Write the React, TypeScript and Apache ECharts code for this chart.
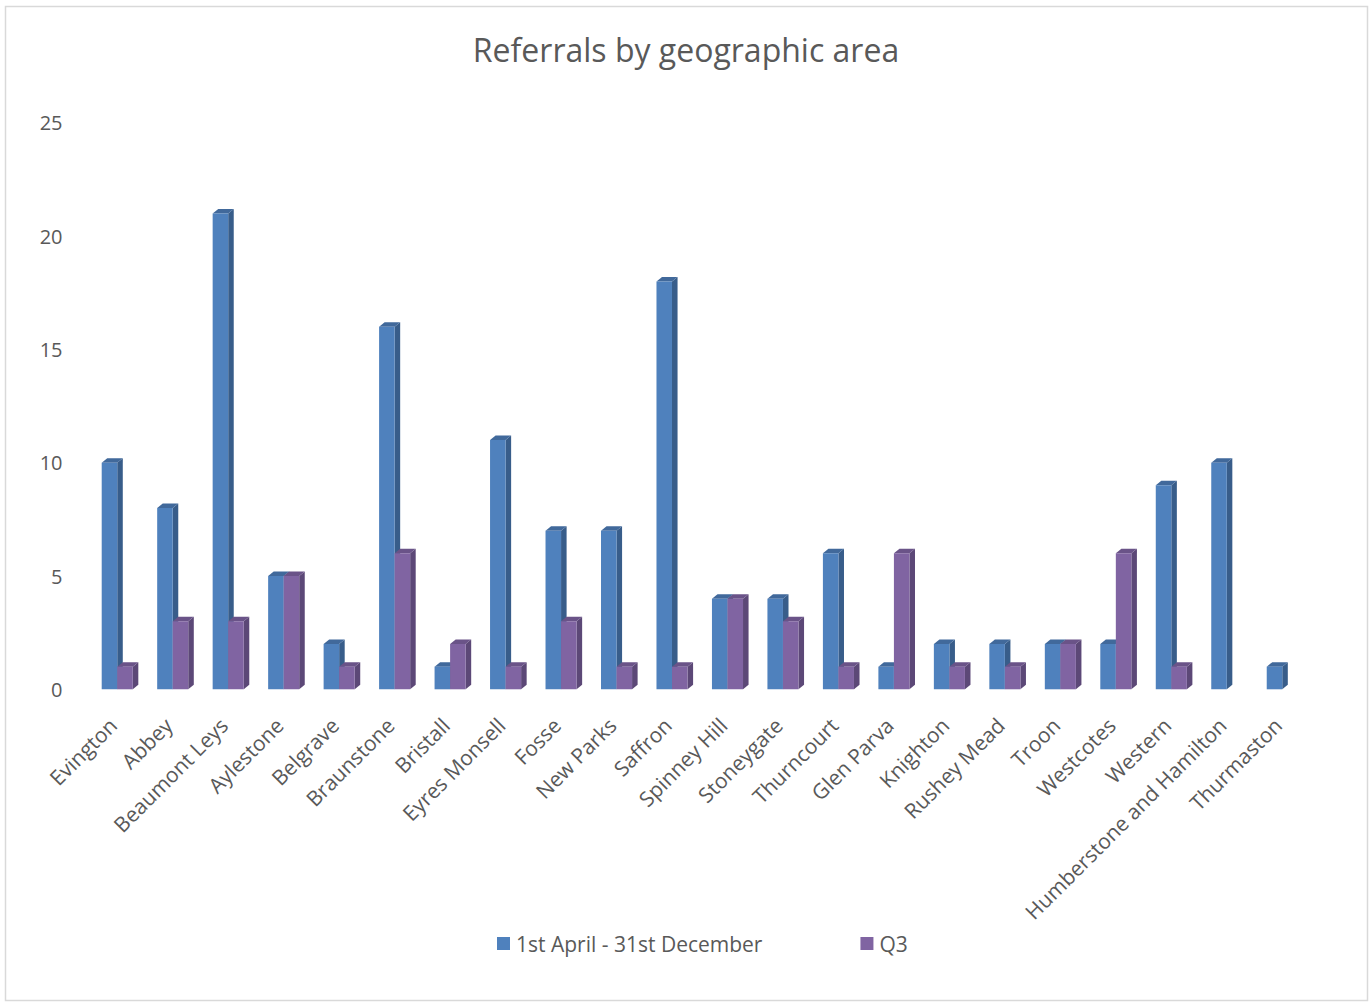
import React, { useEffect, useRef } from "react";
import * as echarts from "echarts";

const categories = [
  "Evington", "Abbey", "Beaumont Leys", "Aylestone", "Belgrave", "Braunstone",
  "Bristall", "Eyres Monsell", "Fosse", "New Parks", "Saffron", "Spinney Hill",
  "Stoneygate", "Thurncourt", "Glen Parva", "Knighton", "Rushey Mead", "Troon",
  "Westcotes", "Western", "Humberstone and Hamilton", "Thurmaston",
];
const seriesNames = ["1st April - 31st December", "Q3"];
const yearToDate = [10, 8, 21, 5, 2, 16, 1, 11, 7, 7, 18, 4, 4, 6, 1, 2, 2, 2, 2, 9, 10, 1];
const q3 = [1, 3, 3, 5, 1, 6, 2, 1, 3, 1, 1, 4, 3, 1, 6, 1, 1, 2, 6, 1, 0, 0];

const palette = [
  { front: "#4F81BD", side: "#385D8A", top: "#41699B" },
  { front: "#8064A2", side: "#5C4877", top: "#6A5388" },
];

const FONT = "'Open Sans', 'Noto Sans', sans-serif";
const TEXT = "#595959";

function make3D(si: number) {
  return (params: any, api: any) => {
    const idx = api.value(0);
    const val = api.value(1);
    if (!val) return null;
    const base = api.coord([idx, 0]);
    const top = api.coord([idx, val]);
    const band = api.size([1, 0])[0];
    const bw = band * 0.28;
    const dx = band * 0.1;
    const dy = 4.5;
    const x0 = base[0] - bw + si * bw;
    const x1 = x0 + bw;
    const c = palette[si];
    return {
      type: "group",
      children: [
        {
          type: "polygon",
          shape: { points: [[x1, top[1]], [x1 + dx, top[1] - dy], [x1 + dx, base[1] - dy], [x1, base[1]]] },
          style: { fill: c.side },
        },
        {
          type: "polygon",
          shape: { points: [[x0, top[1]], [x0 + dx, top[1] - dy], [x1 + dx, top[1] - dy], [x1, top[1]]] },
          style: { fill: c.top },
        },
        {
          type: "rect",
          shape: { x: x0, y: top[1], width: bw, height: base[1] - top[1] },
          style: { fill: c.front },
        },
      ],
    };
  };
}

export default function App() {
  const ref = useRef<HTMLDivElement>(null);
  useEffect(() => {
    document.body.style.margin = "0";
    if (!ref.current) return;
    const chart = echarts.init(ref.current, null, { renderer: "svg" });
    const sets = [yearToDate, q3];
    chart.setOption({
      animation: false,
      backgroundColor: "#ffffff",
      title: {
        text: "Referrals by geographic area",
        left: "center",
        top: 28,
        textStyle: { fontFamily: FONT, fontSize: 32, fontWeight: "normal", color: TEXT },
      },
      legend: {
        top: 933,
        left: 497,
        padding: 0,
        itemGap: 98,
        itemWidth: 13,
        itemHeight: 13,
        icon: "rect",
        textStyle: { fontFamily: FONT, fontSize: 21, color: TEXT, padding: [0, 0, 0, 1] },
        data: seriesNames.map((n, i) => ({ name: n, itemStyle: { color: palette[i].front } })),
      },
      grid: {
        left: 89.5,
        right: 62,
        top: 122.8,
        bottom: 314.7,
        containLabel: false,
        outerBoundsMode: "none",
      },
      xAxis: {
        type: "category",
        data: categories,
        axisLine: { show: false },
        axisTick: { show: false },
        axisLabel: {
          interval: 0,
          rotate: 45,
          margin: 28,
          padding: [0, 6, 0, 0],
          fontFamily: FONT,
          fontSize: 21,
          color: TEXT,
        },
      },
      yAxis: {
        type: "value",
        min: 0,
        max: 25,
        interval: 5,
        splitLine: { show: false },
        axisLine: { show: false },
        axisTick: { show: false },
        axisLabel: { margin: 27, padding: [5, 0, 0, 0], fontFamily: FONT, fontSize: 20, color: TEXT },
      },
      series: sets.map((d, si) => ({
        type: "custom",
        name: seriesNames[si],
        itemStyle: { color: palette[si].front },
        renderItem: make3D(si),
        encode: { x: 0, y: 1 },
        data: d.map((v, i) => [i, v]),
      })),
      graphic: [
        {
          type: "rect",
          shape: { x: 5.5, y: 6.5, width: 1362, height: 994 },
          style: { fill: "none", stroke: "#d9d9d9", lineWidth: 1.5 },
          silent: true,
        },
      ],
    });
    return () => chart.dispose();
  }, []);
  return <div ref={ref} style={{ width: 1372, height: 1004 }} />;
}
